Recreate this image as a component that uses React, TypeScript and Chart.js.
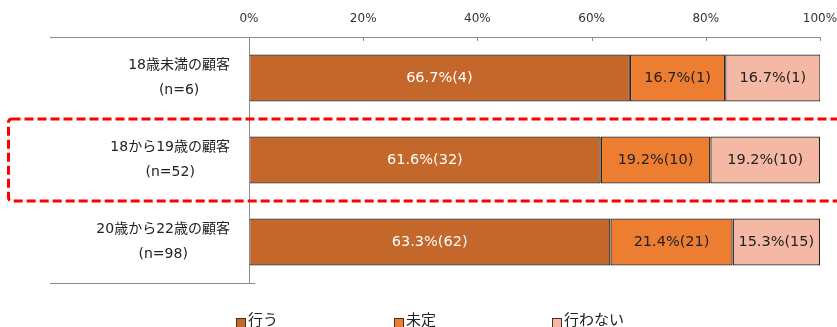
import React, { useEffect, useRef } from "react";
import { Chart, registerables } from "chart.js";

Chart.register(...registerables);

const categoryLines: string[][] = [
  ["18歳未満の顧客", "(n=6)"],
  ["18から19歳の顧客", "(n=52)"],
  ["20歳から22歳の顧客", "(n=98)"],
];
const seriesNames = ["行う", "未定", "行わない"];
const goValues = [66.7, 61.6, 63.3];
const undecidedValues = [16.7, 19.2, 21.4];
const notGoValues = [16.7, 19.2, 15.3];
const goCounts = [4, 32, 62];
const undecidedCounts = [1, 10, 21];
const notGoCounts = [1, 10, 15];
const seriesColors = ["#C4672A", "#ED7D31", "#F4B8A4"];
const labelColors = ["#FFFFFF", "#222222", "#222222"];
const highlightedIndex = 1;

const FONT = '"DejaVu Sans", "Noto Sans CJK JP", sans-serif';

const customPlugin = {
  id: "excelLook",
  afterDatasetsDraw(chart: any) {
    const ctx = chart.ctx;
    const area = chart.chartArea;
    const xs = chart.scales.x;
    const ys = chart.scales.y;
    ctx.save();

    // axis lines
    ctx.strokeStyle = "#8c8c8c";
    ctx.lineWidth = 1;
    ctx.beginPath();
    ctx.moveTo(50, Math.round(area.top) + 0.5);
    ctx.lineTo(area.right + 0.5, Math.round(area.top) + 0.5);
    ctx.moveTo(Math.round(area.left) + 0.5, area.top);
    ctx.lineTo(Math.round(area.left) + 0.5, area.bottom);
    ctx.moveTo(50, Math.round(area.bottom) + 0.5);
    ctx.lineTo(area.left + 6, Math.round(area.bottom) + 0.5);
    xs.ticks.forEach((t: any) => {
      const px = Math.round(xs.getPixelForValue(t.value)) + 0.5;
      ctx.moveTo(px, area.top);
      ctx.lineTo(px, area.top + 4);
    });
    ctx.stroke();

    // x tick labels
    ctx.fillStyle = "#333333";
    ctx.font = `12px ${FONT}`;
    ctx.textAlign = "center";
    ctx.textBaseline = "middle";
    xs.ticks.forEach((t: any) => {
      ctx.fillText(`${t.value}%`, xs.getPixelForValue(t.value), 19);
    });

    // category labels
    ctx.font = `14px ${FONT}`;
    ctx.fillStyle = "#222222";
    categoryLines.forEach((lines, i) => {
      const cy = ys.getPixelForValue(i);
      const widest = Math.max(...lines.map((l) => ctx.measureText(l).width));
      const cx = area.left - 19 - widest / 2;
      lines.forEach((l, j) => {
        const y = cy + (j - (lines.length - 1) / 2) * 25;
        ctx.fillText(l, cx, y);
      });
    });

    // data labels
    const counts = [goCounts, undecidedCounts, notGoCounts];
    ctx.font = `14.5px ${FONT}`;
    chart.data.datasets.forEach((ds: any, di: number) => {
      const meta = chart.getDatasetMeta(di);
      ctx.fillStyle = labelColors[di];
      meta.data.forEach((el: any, i: number) => {
        const v = ds.data[i];
        const text = `${v.toFixed(1)}%(${counts[di][i]})`;
        ctx.fillText(text, (el.x + el.base) / 2, el.y);
      });
    });

    // legend
    const legendY = 321;
    const startX = 236;
    const step = 158;
    ctx.font = `15px ${FONT}`;
    ctx.textAlign = "left";
    seriesNames.forEach((name, i) => {
      const x = startX + i * step;
      ctx.fillStyle = seriesColors[i];
      ctx.fillRect(x, legendY - 3, 10, 10);
      ctx.strokeStyle = "#4a3020";
      ctx.lineWidth = 1;
      ctx.strokeRect(x + 0.5, legendY - 2.5, 9, 9);
      ctx.fillStyle = "#222222";
      ctx.fillText(name, x + 12, legendY);
    });

    // dashed highlight box
    const hy = ys.getPixelForValue(highlightedIndex);
    ctx.strokeStyle = "#FF0000";
    ctx.lineWidth = 3;
    ctx.setLineDash([9, 4]);
    ctx.beginPath();
    if ((ctx as any).roundRect) {
      (ctx as any).roundRect(8.5, hy - 41, 840, 82, 3);
    } else {
      ctx.rect(8.5, hy - 41, 840, 82);
    }
    ctx.stroke();
    ctx.restore();
  },
};

export default function App() {
  const ref = useRef<HTMLCanvasElement | null>(null);
  useEffect(() => {
    if (!ref.current) return;
    const chart = new Chart(ref.current, {
      type: "bar",
      data: {
        labels: categoryLines.map((l) => l.join(" ")),
        datasets: [
          { label: seriesNames[0], data: goValues, backgroundColor: seriesColors[0] },
          { label: seriesNames[1], data: undecidedValues, backgroundColor: seriesColors[1] },
          { label: seriesNames[2], data: notGoValues, backgroundColor: seriesColors[2] },
        ].map((d) => ({
          ...d,
          borderColor: "#2a211b",
          borderWidth: 1.3,
          borderSkipped: false,
          categoryPercentage: 1,
          barPercentage: 0.575,
        })),
      },
      options: {
        indexAxis: "y",
        animation: false,
        responsive: true,
        maintainAspectRatio: false,
        layout: { padding: { left: 249, right: 17, top: 37, bottom: 44 } },
        scales: {
          x: { display: false, stacked: true, min: 0, max: 100, ticks: { stepSize: 20 } },
          y: { display: false, stacked: true },
        },
        plugins: {
          legend: { display: false },
          tooltip: { enabled: false },
        },
      },
      plugins: [customPlugin],
    });
    return () => chart.destroy();
  }, []);
  return (
    <div style={{ position: "fixed", left: 0, top: 0, width: 837, height: 327, background: "#fff" }}>
      <canvas ref={ref} />
    </div>
  );
}
